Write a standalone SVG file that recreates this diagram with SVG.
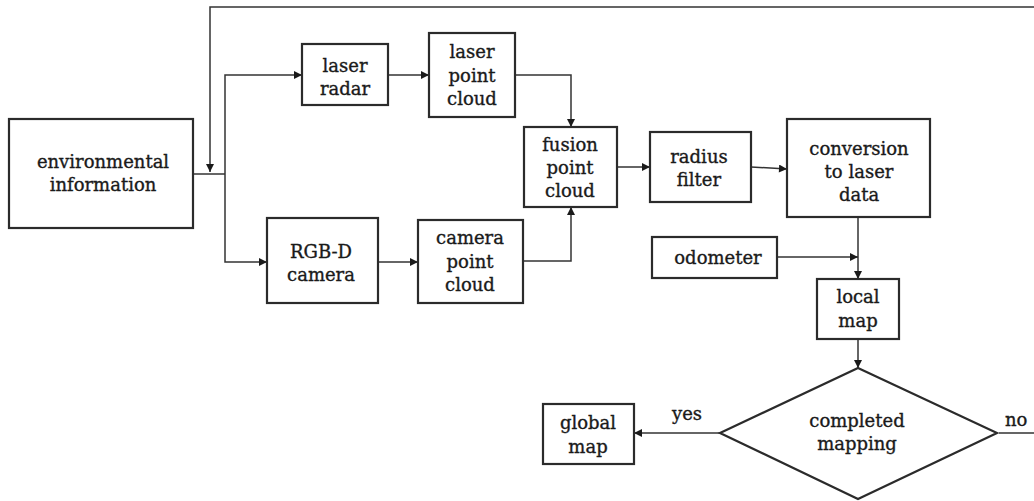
<svg xmlns="http://www.w3.org/2000/svg" width="1034" height="501" viewBox="0 0 1034 501">
  <defs>
    <style>
      .box { fill: #ffffff; stroke: #2b2b2b; stroke-width: 2.2; }
      .lbl { font-family: "DejaVu Serif", "Liberation Serif", serif; font-size: 18px; fill: #1a1a1a; stroke: #1a1a1a; stroke-width: 0.35; text-anchor: middle; }
      .edge { fill: none; stroke: #333333; stroke-width: 1.5; }
      .edge-arrow { fill: none; stroke: #333333; stroke-width: 1.5; marker-end: url(#head); }
    </style>
    <marker id="head" viewBox="0 0 10 10" refX="10" refY="5" markerWidth="10" markerHeight="8" markerUnits="userSpaceOnUse" orient="auto">
      <path d="M0,0 L10,5 L0,10 Z" fill="#1a1a1a"/>
    </marker>
  </defs>
  <rect width="1034" height="501" fill="#ffffff"/>

  <!-- connectors -->
  <g id="connectors">
    <!-- split from environmental information to both sensors -->
    <path class="edge" d="M193,174 H225"/>
    <path class="edge-arrow" d="M225,174 V75 H302"/>
    <path class="edge-arrow" d="M225,174 V262 H267"/>
    <!-- sensor chains -->
    <path class="edge-arrow" d="M388,75 H429"/>
    <path class="edge-arrow" d="M378,262 H418"/>
    <path class="edge-arrow" d="M515,75 H571 V127"/>
    <path class="edge-arrow" d="M523,261 H571 V207"/>
    <!-- processing chain -->
    <path class="edge-arrow" d="M617,167 H650"/>
    <path class="edge-arrow" d="M751,167 L787,169"/>
    <path class="edge-arrow" d="M858,217 V279"/>
    <path class="edge-arrow" d="M777,257 H858"/>
    <path class="edge-arrow" d="M858,339 V368"/>
    <!-- decision outcomes -->
    <path class="edge-arrow" d="M720,433 H634"/>
    <path class="edge-arrow" d="M999,433 H1044 V7 H210 V172"/>
  </g>

  <g id="environmental-information">
    <rect class="box" x="9" y="119" width="184" height="109"/>
    <text class="lbl" x="103" y="168">environmental</text>
    <text class="lbl" x="103" y="191">information</text>
  </g>

  <g id="laser-radar">
    <rect class="box" x="302" y="44" width="86" height="61"/>
    <text class="lbl" x="345" y="72">laser</text>
    <text class="lbl" x="345" y="95">radar</text>
  </g>

  <g id="laser-point-cloud">
    <rect class="box" x="429" y="33" width="86" height="84"/>
    <text class="lbl" x="472" y="58">laser</text>
    <text class="lbl" x="472" y="82">point</text>
    <text class="lbl" x="472" y="105">cloud</text>
  </g>

  <g id="rgbd-camera">
    <rect class="box" x="267" y="218" width="111" height="85"/>
    <text class="lbl" x="321" y="258">RGB-D</text>
    <text class="lbl" x="321" y="281">camera</text>
  </g>

  <g id="camera-point-cloud">
    <rect class="box" x="418" y="220" width="105" height="83"/>
    <text class="lbl" x="470" y="244">camera</text>
    <text class="lbl" x="470" y="268">point</text>
    <text class="lbl" x="470" y="291">cloud</text>
  </g>

  <g id="fusion-point-cloud">
    <rect class="box" x="524" y="127" width="93" height="80"/>
    <text class="lbl" x="570" y="151">fusion</text>
    <text class="lbl" x="570" y="174">point</text>
    <text class="lbl" x="570" y="197">cloud</text>
  </g>

  <g id="radius-filter">
    <rect class="box" x="650" y="132" width="101" height="70"/>
    <text class="lbl" x="699" y="163">radius</text>
    <text class="lbl" x="699" y="186">filter</text>
  </g>

  <g id="conversion">
    <rect class="box" x="787" y="119" width="143" height="98"/>
    <text class="lbl" x="859" y="155">conversion</text>
    <text class="lbl" x="859" y="178">to laser</text>
    <text class="lbl" x="859" y="201">data</text>
  </g>

  <g id="odometer">
    <rect class="box" x="652" y="237" width="125" height="41"/>
    <text class="lbl" x="718" y="264">odometer</text>
  </g>

  <g id="local-map">
    <rect class="box" x="817" y="279" width="82" height="60"/>
    <text class="lbl" x="858" y="303">local</text>
    <text class="lbl" x="858" y="327">map</text>
  </g>

  <g id="completed-mapping">
    <polygon class="box" points="858,368 997,433 858,499 720,433"/>
    <text class="lbl" x="857" y="427">completed</text>
    <text class="lbl" x="857" y="450">mapping</text>
  </g>

  <g id="global-map">
    <rect class="box" x="543" y="404" width="91" height="60"/>
    <text class="lbl" x="588" y="429">global</text>
    <text class="lbl" x="588" y="453">map</text>
  </g>

  <g id="branch-labels">
    <text class="lbl" x="687" y="420">yes</text>
    <text class="lbl" x="1005" y="426" style="text-anchor:start">no</text>
  </g>
</svg>
